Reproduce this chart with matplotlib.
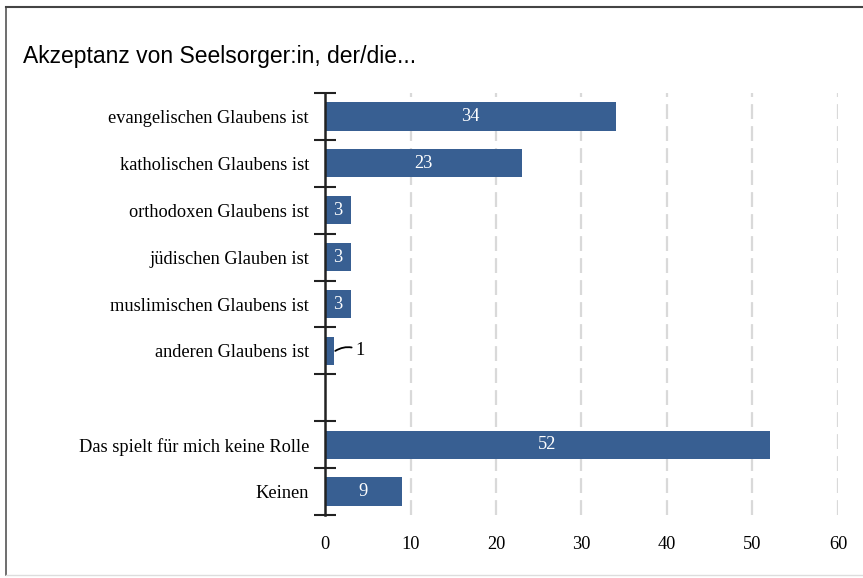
import numpy as np
import matplotlib
matplotlib.use("Agg")
from matplotlib import pyplot as plt
from matplotlib.lines import Line2D

categories = ['evangelischen Glaubens ist', 'katholischen Glaubens ist',
              'orthodoxen Glaubens ist', 'jüdischen Glauben ist',
              'muslimischen Glaubens ist', 'anderen Glaubens ist',
              '', 'Das spielt für mich keine Rolle', 'Keinen']
values = [34, 23, 3, 3, 3, 1, None, 52, 9]
xticks = [0, 10, 20, 30, 40, 50, 60]

barCol = '#385f92'
serif = 'Liberation Serif'
fs = 13.2

fig = plt.figure(figsize=(8.63, 5.78), dpi=100)
ax = fig.add_axes([0.3766, 0.109, 0.5944, 0.730])

pos = np.arange(len(categories))
for p, v in zip(pos, values):
    if v is None:
        continue
    ax.barh(p, v, height=0.6, color=barCol, zorder=3)
    if v >= 3:
        ax.text(v / 2, p, str(v), color='white', ha='center', va='center',
                fontsize=fs, family=serif, zorder=4)
    else:
        # small bar: label outside with a leader line
        ax.annotate(str(v), xy=(v + 0.2, p), xytext=(v + 2.6, p),
                    ha='left', va='center', fontsize=fs, family=serif,
                    arrowprops=dict(arrowstyle='-', color='black', lw=1.3,
                                    connectionstyle='arc3,rad=0.3',
                                    shrinkA=1, shrinkB=0))

ax.set_xlim(0, 60)
ax.set_ylim(len(categories) - 0.5, -0.5)
ax.set_xticks(xticks)
ax.set_xticklabels([str(t) for t in xticks], family=serif, fontsize=fs)
ax.tick_params(axis='x', length=0, pad=15)

ax.set_yticks(pos)
ax.set_yticklabels(categories, family=serif, fontsize=fs)
ax.set_yticks(np.arange(len(categories) + 1) - 0.5, minor=True)
ax.tick_params(axis='y', which='major', length=0, pad=11.5)
ax.tick_params(axis='y', which='minor', direction='inout', length=16,
               width=1.5, color='#222222')

for s in ['top', 'right', 'bottom']:
    ax.spines[s].set_visible(False)
ax.spines['left'].set_linewidth(1.8)
ax.spines['left'].set_color('#222222')
ax.spines['left'].set_zorder(5)

for t in xticks[1:]:
    ax.axvline(t, color='#d9d9d9', lw=1.6, ls=(0, (6.7, 3.2)), zorder=1)

fig.text(23 / 863, 1 - 57 / 578, 'Akzeptanz von Seelsorger:in, der/die...',
         fontsize=16.5, family='Liberation Sans', va='center', ha='left')

# frame around the figure (left, top, bottom)
fig.add_artist(Line2D([6 / 863, 6 / 863], [1 - 7 / 578, 1 - 575 / 578],
                      transform=fig.transFigure, color='#555555', lw=1.2))
fig.add_artist(Line2D([6 / 863, 1], [1 - 7 / 578, 1 - 7 / 578],
                      transform=fig.transFigure, color='#444444', lw=1.5))
fig.add_artist(Line2D([6 / 863, 1], [1 - 575 / 578, 1 - 575 / 578],
                      transform=fig.transFigure, color='#dddddd', lw=1))

fig.savefig('out.png', dpi=100)
